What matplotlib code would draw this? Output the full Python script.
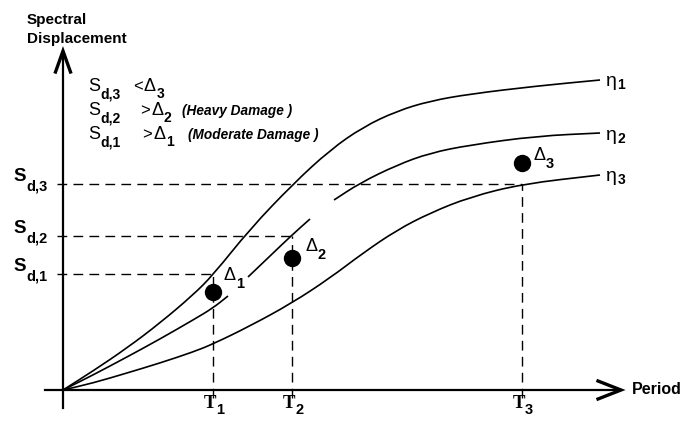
import matplotlib.pyplot as plt
from matplotlib.path import Path
from matplotlib.patches import PathPatch

plt.rcParams['font.family'] = ['Liberation Sans', 'DejaVu Sans']

# Sketch of spectral displacement vs period, drawn on a 684 x 421 canvas
# (x to the right, y downwards)
origin = (63, 390)

# points along the three damping curves
eta1_x = [63, 93, 127, 160, 193, 213, 250, 293, 330, 363, 397, 430, 470, 537, 600]
eta1_y = [390, 371, 348, 323, 295, 275, 229, 184, 150, 127, 111, 101, 94, 86, 80]

eta2_x = [63, 93, 127, 160, 193, 213, 228, 248, 270, 292, 310, 334, 360, 397, 430, 470, 537, 600]
eta2_y = [390, 375, 357, 339, 320, 308, 296, 277, 256, 235, 219, 200, 183, 165, 153, 145, 136, 133]
# the middle curve is drawn in three pieces
eta2_breaks = [(228, 248), (310, 334)]

eta3_x = [63, 93, 127, 160, 193, 213, 250, 292, 330, 363, 397, 430, 470, 522, 600]
eta3_y = [390, 383, 373, 363, 352, 344, 326, 303, 278, 253, 230, 213, 197, 184, 175]

# periods T1..T3, spectral displacements Sd,1..Sd,3 and demands Delta1..Delta3
period_x = [213, 292, 522]
sd_y = [274, 236, 184]
delta_y = [292, 258, 163]
labels_idx = ['1', '2', '3']

eta_label_y = [86, 140, 181]


def smooth_path(xs, ys):
    # quadratic bezier pieces through the midpoints of consecutive points
    verts = [(xs[0], ys[0])]
    codes = [Path.MOVETO]
    mids = [((xs[i] + xs[i + 1]) / 2, (ys[i] + ys[i + 1]) / 2) for i in range(len(xs) - 1)]
    verts.append(mids[0])
    codes.append(Path.LINETO)
    for i in range(1, len(xs) - 1):
        verts += [(xs[i], ys[i]), mids[i]]
        codes += [Path.CURVE3, Path.CURVE3]
    verts.append((xs[-1], ys[-1]))
    codes.append(Path.LINETO)
    return Path(verts, codes)


def draw_curve(ax, xs, ys, lw=1.2):
    ax.add_patch(PathPatch(smooth_path(xs, ys), fill=False, lw=lw, color='black',
                           capstyle='butt'))


def sub_label(ax, x, y, main, sub, size, sub_size, dx=0.5, dy=-2.5,
              main_kw=None, sub_kw=None):
    main_kw = main_kw or {}
    sub_kw = sub_kw or {'fontweight': 'bold'}
    t = ax.text(x, y, main, fontsize=size, va='baseline', ha='left', **main_kw)
    ax.annotate(sub, xy=(1, 0), xycoords=t, xytext=(dx, dy), textcoords='offset points',
                fontsize=sub_size, va='baseline', ha='left', **sub_kw)
    return t


fig = plt.figure(figsize=(6.84, 4.21), dpi=100)
ax = fig.add_axes([0, 0, 1, 1])
ax.set_xlim(0, 684)
ax.set_ylim(421, 0)
ax.axis('off')

# axes with arrow heads
ax.plot([45, 620], [origin[1], origin[1]], color='black', lw=1.6)
ax.plot([origin[0], origin[0]], [408, 52], color='black', lw=1.6)
ax.plot([598, 621, 598], [381, 390, 399], color='black', lw=2.4, solid_joinstyle='miter')
ax.plot([55.5, 63, 70.5], [72, 51, 72], color='black', lw=2.4, solid_joinstyle='miter')

# curves
draw_curve(ax, eta1_x, eta1_y)
draw_curve(ax, eta3_x, eta3_y)
cuts = [eta2_x[0]] + [v for b in eta2_breaks for v in b] + [eta2_x[-1]]
for a, b in zip(cuts[::2], cuts[1::2]):
    idx = [i for i, v in enumerate(eta2_x) if a <= v <= b]
    draw_curve(ax, [eta2_x[i] for i in idx], [eta2_y[i] for i in idx])

# dashed guides
for px, sy in zip(period_x, sd_y):
    ax.plot([57, px], [sy, sy], color='black', lw=1.0, dashes=(7, 4.5))
    ax.plot([px, px], [398, sy], color='black', lw=1.0, dashes=(7, 4.5))

# demand points
ax.plot(period_x, delta_y, 'o', color='black', markersize=11.5, zorder=5)

# curve labels
for k, ly in zip(labels_idx, eta_label_y):
    sub_label(ax, 606, ly, '\u03b7', k, 14, 10, dx=0.5, dy=0.5)

# point labels
delta_label_pos = [(223, 280), (305, 251), (533, 160)]
for k, (lx, ly) in zip(labels_idx, delta_label_pos):
    sub_label(ax, lx, ly, '\u0394', k, 13, 10.5, dx=0.5, dy=-3)

# Sd labels on the vertical axis
for k, sy in zip(labels_idx, sd_y):
    sub_label(ax, 13, sy - 3, 'S', 'd,' + k, 13.5, 10.5, dx=0.5, dy=-3.8,
              main_kw={'fontweight': 'bold'})

# T labels on the period axis
for k, px in zip(labels_idx, period_x):
    sub_label(ax, px - 9.5, 408, 'T', k, 13.5, 10.5, dx=0, dy=-1.5,
              main_kw={'fontweight': 'bold', 'family': 'Liberation Serif'})

# axis titles
ax.text(27, 24, 'Spectral', fontsize=11, fontweight='bold', va='baseline')
ax.text(27, 43, 'Displacement', fontsize=11, fontweight='bold', va='baseline')
ax.text(632, 394, 'Period', fontsize=11.5, fontweight='bold', va='baseline')

# damage conditions
cond_ops = ['<', '>', '>']
cond_notes = ['', '(Heavy Damage )', '(Moderate Damage )']
cond_base = [91, 115, 139]
cond_op_x = [133, 140, 142]
cond_delta_x = [144, 151, 153]
cond_note_x = [0, 182, 188]
for k, op, note, by, ox, dlx, nx in zip(['3', '2', '1'], cond_ops, cond_notes, cond_base,
                                         cond_op_x, cond_delta_x, cond_note_x):
    sub_label(ax, 88, by, 'S', 'd,' + k, 13, 10, dx=0.5, dy=-2.3)
    ax.text(ox, by, op, fontsize=12, va='baseline')
    sub_label(ax, dlx, by, '\u0394', k, 13, 10, dx=0.5, dy=-2.3)
    if note:
        ax.text(nx, by, note, fontsize=9.8, fontweight='bold', fontstyle='italic',
                va='baseline')

fig.savefig('out.png', dpi=100)
